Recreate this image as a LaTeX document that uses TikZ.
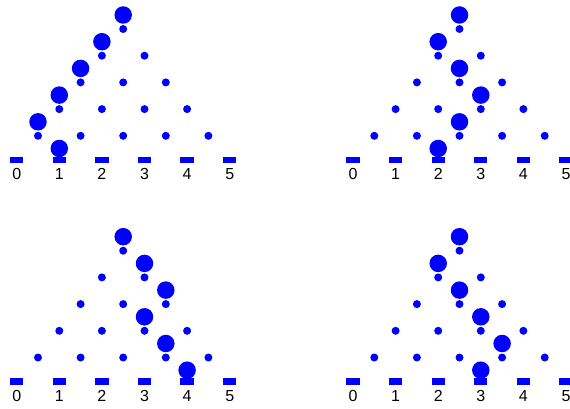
\documentclass[tikz,border=0pt]{standalone}
\usepackage{fontspec}
\setmainfont{Liberation Sans}
\begin{document}
\begin{tikzpicture}[x=1pt,y=-1pt,
  peg/.style={circle,fill=blue,inner sep=0pt,minimum size=8pt},
  ball/.style={circle,fill=blue,inner sep=0pt,minimum size=17.5pt},
  bin/.style={rectangle,fill=blue,inner sep=0pt,minimum width=13.3pt,minimum height=6.7pt},
  lab/.style={inner sep=0pt,font=\fontsize{16}{16}\selectfont}]
\useasboundingbox (0,0) rectangle (570,409);
\newcommand\galtonpanel[4]{%
 \begin{scope}[shift={(#2,#3)}]
  \foreach \r in {1,...,5}{\foreach \j in {1,...,\r}{
    \node[peg] (#1p\r\j) at ({16.7+42.6*(2.5-(\r-1)/2+\j-1)},{29+26.7*(\r-1)}) {};}}
  \foreach \k in {0,...,5}{
    \node[bin] (#1b\k) at ({16.7+42.6*\k},160) {};
    \node[lab] (#1l\k) at ({16.7+42.6*\k},174.2) {\k};}
  \foreach \x [count=\i from 0] in {#4}{
    \node[ball] (#1c\i) at ({16.7+42.6*\x},{15+26.7*\i}) {};}
 \end{scope}}
\galtonpanel{A}{0}{0}{2.5,2,1.5,1,0.5,1}
\galtonpanel{B}{336.3}{0}{2.5,2,2.5,3,2.5,2}
\galtonpanel{C}{0}{221.7}{2.5,3,3.5,3,3.5,4}
\galtonpanel{D}{336.3}{221.7}{2.5,2,2.5,3,3.5,3}
\end{tikzpicture}
\end{document}
